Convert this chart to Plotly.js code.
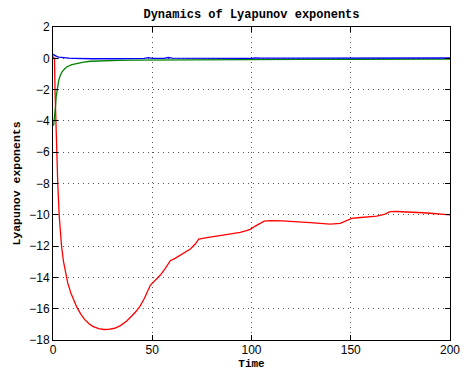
<!DOCTYPE html>
<html>
<head>
<meta charset="utf-8">
<script src="https://cdn.plot.ly/plotly-3.0.1.min.js"></script>
<style>html,body{margin:0;padding:0;background:#fff;}#chart{width:470px;height:370px;}</style>
</head>
<body>
<div id="chart"></div>
<script>
// Red exponent
const redTime = [0, 0.5, 0.75, 1.0, 1.4, 1.9, 2.4, 3.1, 4.3, 5.3, 6.3, 7.5, 9.0, 10.5, 12.0, 14, 16, 18, 20, 23, 25.6, 28, 31, 34, 37, 39.8, 42, 44, 46, 49.1, 51.6, 54.1, 56.6, 59.1, 61.5, 64.2, 66.7, 69.2, 71.7, 73.4, 77.6, 81.8, 85.9, 90.1, 94.3, 97, 99.4, 101.9, 104.2, 106.4, 109.5, 112.8, 116, 119.5, 124.5, 129.6, 134.6, 139.6, 144.7, 148, 150.5, 153.5, 156.4, 159.7, 163.1, 167.3, 169.8, 173, 176.5, 180, 183.2, 186.5, 190, 195, 200];
const redValue = [0.1, 0.05, 0.0, -2.0, -4.0, -6.0, -8.0, -10.0, -12.0, -13.0, -13.74, -14.4, -15.0, -15.5, -15.9, -16.35, -16.7, -16.95, -17.13, -17.27, -17.33, -17.32, -17.25, -17.08, -16.8, -16.45, -16.15, -15.8, -15.35, -14.49, -14.17, -13.85, -13.42, -12.93, -12.78, -12.57, -12.38, -12.19, -11.87, -11.55, -11.46, -11.38, -11.29, -11.21, -11.12, -11.03, -10.93, -10.72, -10.55, -10.40, -10.37, -10.37, -10.39, -10.42, -10.48, -10.50, -10.55, -10.59, -10.55, -10.37, -10.23, -10.19, -10.16, -10.12, -10.08, -9.95, -9.80, -9.79, -9.80, -9.82, -9.84, -9.87, -9.90, -9.95, -10.01];

// Green exponent
const greenTime = [0.3, 0.6, 0.9, 1.26, 1.6, 2.1, 2.9, 3.7, 4.6, 5.8, 7.1, 9.5, 12.2, 15.5, 18.9, 25.6, 33, 40, 50, 60, 80, 100, 125, 150, 175, 200];
const greenValue = [-4.3, -4.0, -3.5, -3.09, -2.45, -2.03, -1.39, -1.08, -0.86, -0.68, -0.54, -0.41, -0.32, -0.24, -0.19, -0.15, -0.13, -0.12, -0.11, -0.10, -0.09, -0.08, -0.07, -0.06, -0.055, -0.05];

// Blue exponent
const blueTime = [0, 0.5, 1, 2, 3, 4.5, 6, 8, 10, 15, 20, 30, 40, 46, 48, 50, 56, 58, 60, 70, 72, 74, 90, 100, 102, 104, 130, 150, 175, 200];
const blueValue = [0.25, 0.2, 0.15, 0.11, 0.08, 0.05, 0.03, 0.01, 0.0, -0.02, -0.03, -0.03, -0.02, -0.01, 0.04, 0.0, 0.0, 0.05, 0.01, 0.0, 0.04, 0.0, 0.0, 0.0, 0.03, 0.01, 0.01, 0.02, 0.02, 0.02];

const xTicks = [0, 50, 100, 150, 200];
const yTicks = [-18, -16, -14, -12, -10, -8, -6, -4, -2, 0, 2];

const traces = [
  {x: redTime, y: redValue, mode: 'lines', line: {color: '#ff0000', width: 1.3}},
  {x: greenTime, y: greenValue, mode: 'lines', line: {color: '#008000', width: 1.3}},
  {x: blueTime, y: blueValue, mode: 'lines', line: {color: '#0000ff', width: 1.3}}
];

const monoBold = {family: 'Liberation Mono, Courier New, monospace', size: 12, color: '#000', weight: 'bold'};

const axisCommon = {
  showline: true, linecolor: '#000', linewidth: 1,
  mirror: 'allticks', ticks: 'inside', ticklen: 5, tickcolor: '#000', tickwidth: 1,
  showgrid: true, gridcolor: '#555', griddash: '1px,4px', gridwidth: 1,
  zeroline: false,
  tickfont: {family: 'Liberation Sans, Arial, sans-serif', size: 12, color: '#000'}
};

const layout = {
  width: 470, height: 370,
  margin: {l: 52.5, r: 20, t: 27, b: 30},
  paper_bgcolor: '#fff', plot_bgcolor: '#fff',
  showlegend: false,
  title: {
    text: 'Dynamics of Lyapunov exponents',
    font: monoBold,
    x: 0.5, xanchor: 'center', xref: 'paper', y: 0.962, yref: 'container', yanchor: 'middle'
  },
  xaxis: Object.assign({}, axisCommon, {
    range: [0, 200], tickvals: xTicks, ticklabelstandoff: -1,
    title: {text: 'Time', standoff: 4, font: Object.assign({}, monoBold, {size: 11})}
  }),
  yaxis: Object.assign({}, axisCommon, {
    range: [-18, 2], tickvals: yTicks,
    title: {text: 'Lyapunov exponents', standoff: 6, font: Object.assign({}, monoBold, {size: 11.5})}
  })
};

Plotly.newPlot('chart', traces, layout, {displayModeBar: false, staticPlot: true});
</script>
</body>
</html>
